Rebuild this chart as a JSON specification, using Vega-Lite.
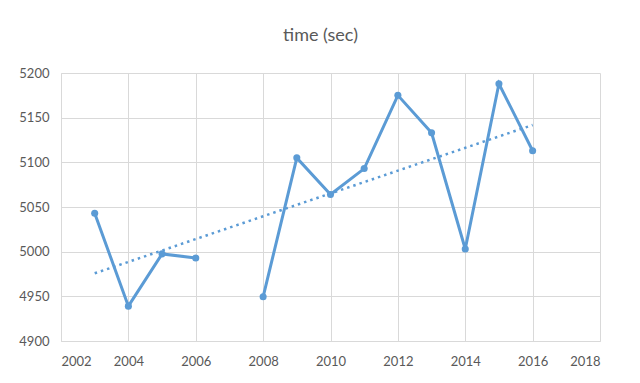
{
  "$schema": "https://vega.github.io/schema/vega-lite/v6.json",
  "width": 539,
  "height": 268,
  "autosize": {"type": "none"},
  "padding": {"left": 61, "top": 73, "right": 40, "bottom": 42},
  "background": "white",
  "title": {
    "text": "time (sec)",
    "anchor": "middle",
    "dx": -10,
    "offset": 22,
    "font": "Lato",
    "fontSize": 18,
    "fontWeight": "normal",
    "color": "#595959"
  },
  "config": {
    "view": {"stroke": null},
    "axis": {
      "labelFont": "Lato",
      "labelFontSize": 13,
      "labelColor": "#595959",
      "gridColor": "#d9d9d9",
      "gridWidth": 1,
      "domainColor": "#d9d9d9",
      "domainWidth": 1,
      "ticks": false,
      "title": null
    }
  },
  "data": {
    "values": [
      {"year": 2003, "time": 5043, "segment": 1},
      {"year": 2004, "time": 4939, "segment": 1},
      {"year": 2005, "time": 4997.5, "segment": 1},
      {"year": 2006, "time": 4993, "segment": 1},
      {"year": 2008, "time": 4949.5, "segment": 2},
      {"year": 2009, "time": 5105, "segment": 2},
      {"year": 2010, "time": 5064, "segment": 2},
      {"year": 2011, "time": 5093, "segment": 2},
      {"year": 2012, "time": 5175, "segment": 2},
      {"year": 2013, "time": 5133, "segment": 2},
      {"year": 2014, "time": 5003, "segment": 2},
      {"year": 2015, "time": 5188, "segment": 2},
      {"year": 2016, "time": 5113, "segment": 2}
    ]
  },
  "encoding": {
    "x": {
      "field": "year",
      "type": "quantitative",
      "scale": {"domain": [2002, 2018], "nice": false, "zero": false},
      "axis": {"values": [2002, 2004, 2006, 2008, 2010, 2012, 2014, 2016, 2018], "format": "d", "labelPadding": 14}
    },
    "y": {
      "field": "time",
      "type": "quantitative",
      "scale": {"domain": [4900, 5200], "nice": false, "zero": false},
      "axis": {"values": [4900, 4950, 5000, 5050, 5100, 5150, 5200], "format": "d", "labelPadding": 12}
    }
  },
  "layer": [
    {
      "transform": [{"regression": "time", "on": "year"}],
      "mark": {"type": "line", "color": "#5B9BD5", "strokeWidth": 2.5, "strokeDash": [2.5, 4]},
      "encoding": {}
    },
    {
      "mark": {
        "type": "line",
        "color": "#5B9BD5",
        "strokeWidth": 3,
        "point": {"filled": true, "size": 50, "color": "#5B9BD5"}
      },
      "encoding": {"detail": {"field": "segment", "type": "nominal"}}
    }
  ]
}
